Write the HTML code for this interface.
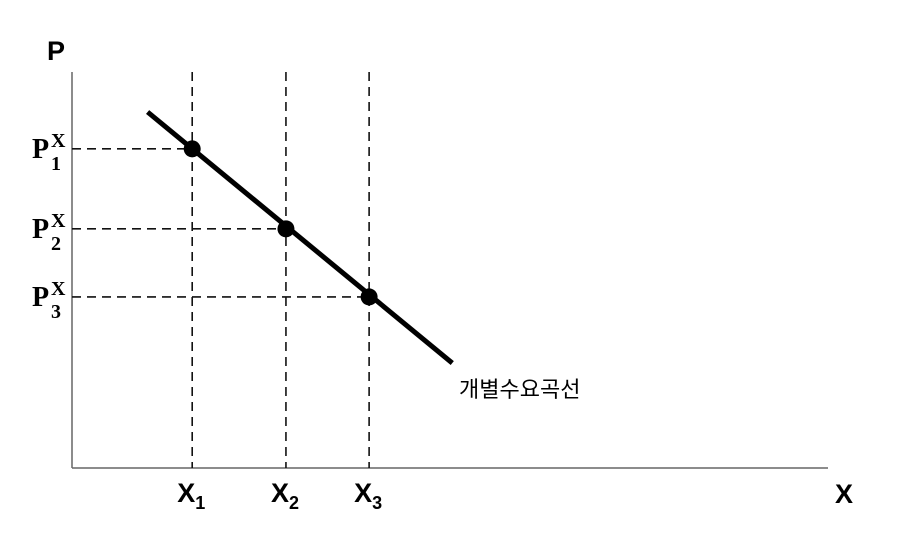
<!DOCTYPE html>
<html><head><meta charset="utf-8"><style>
body{margin:0;background:#fff;}
svg{display:block;}
text{font-family:"Liberation Sans","Noto Sans CJK KR",sans-serif;}
.serif{font-family:"Liberation Serif","Noto Serif CJK SC",serif;font-weight:bold;}
</style></head><body>
<svg id="chart" width="900" height="540" viewBox="0 0 900 540"></svg>
<script>
const xLabels = ["1","2","3"];
const xValues = [15.9, 28.3, 39.3];
const pValues = [80.6, 60.4, 43.2];
const curveX = [10.0, 50.3];
const curveP = [89.9, 26.5];
const curveLabel = "개별수요곡선";

const X0=72, X1=828, Y0=468, Y1=72;
const sx = v => X0 + v/100*(X1-X0);
const sy = v => Y0 - v/100*(Y0-Y1);
const svg = document.getElementById('chart');
const NS = 'http://www.w3.org/2000/svg';
function mk(tag, attrs, parent){
  const e = document.createElementNS(NS, tag);
  for (const k in attrs) e.setAttribute(k, attrs[k]);
  (parent||svg).appendChild(e);
  return e;
}
let a = mk('line',{x1:X0,y1:Y1,x2:X0,y2:Y0,stroke:'#666','stroke-width':1.5});


a = mk('line',{x1:X0,y1:Y0,x2:X1,y2:Y0,stroke:'#666','stroke-width':1.5});


let t = mk('text',{x:47,y:60,'font-size':27,'font-weight':'bold'}); t.textContent='P';


t = mk('text',{x:835,y:503,'font-size':27,'font-weight':'bold'}); t.textContent='X';



for (let i=0;i<xValues.length;i++){
  const px=sx(xValues[i]), py=sy(pValues[i]);
  let g = mk('line',{x1:px,y1:Y1,x2:px,y2:Y0,stroke:'#111','stroke-width':1.6,'stroke-dasharray':'9,6'});
  
  
  g = mk('line',{x1:X0,y1:py,x2:px,y2:py,stroke:'#111','stroke-width':1.6,'stroke-dasharray':'9,6'});
  
  
  const xt = mk('text',{x:px-15,y:502,'font-size':27,'font-weight':'bold'});
  xt.textContent='X';
  const sub = mk('tspan',{dy:7,'font-size':18},xt); sub.textContent=xLabels[i];
  
  
  const yt = mk('text',{x:32,y:py+9,'font-size':28,class:'serif'});
  yt.textContent='P';
  const s1 = mk('tspan',{x:51,dy:12,'font-size':20},yt); s1.textContent=xLabels[i];
  const s2 = mk('tspan',{x:51,dy:-23,'font-size':20},yt); s2.textContent='X';
  
  
}
const c = mk('line',{x1:sx(curveX[0]),y1:sy(curveP[0]),x2:sx(curveX[1]),y2:sy(curveP[1]),stroke:'#000','stroke-width':5});


for (let i=0;i<xValues.length;i++){
  const d = mk('circle',{cx:sx(xValues[i]),cy:sy(pValues[i]),r:8.5,fill:'#000'});
  
  
}
t = mk('text',{x:459,y:397,'font-size':22}); t.textContent=curveLabel;


</script>
</body></html>
